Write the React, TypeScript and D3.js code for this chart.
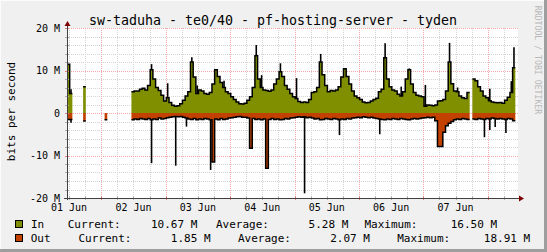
import React from 'react';
import * as d3 from 'd3';

const TITLE = 'sw-taduha - te0/40 - pf-hosting-server - tyden';
const Y_LABEL = 'bits per second';
const WATERMARK = 'RRDTOOL / TOBI OETIKER';
const Y_MAJOR = [20, 10, 0, -10, -20];
const Y_MAJOR_LABELS = ['20 M', '10 M', '0', '-10 M', '-20 M'];
const X_LABELS = ['01 Jun', '02 Jun', '03 Jun', '04 Jun', '05 Jun', '06 Jun', '07 Jun'];
const HOURS = 168;
const START_OFFSET = 0.75; // hours from graph start to 01 Jun 00:00

// hourly averages, M bit/s
const inAvg: (number | null)[] = [
  11.5, 4.6, null, null, null, null, 6.2, null, null, null, null, null, null, null, null, null, null, null, null, null, null, null, null, null,
  5.0, 5.2, 5.2, 5.6, 5.8, 5.4, 6.5, 10.2, 8.0, 6.0,
  5.3, 4.2, 2.8, 3.6, 2.5, 1.8, 1.6, 1.7, 2.2, 3.0,
  4.0, 5.0, 12.0, 8.5, 4.6, 5.4, 5.2, 4.6, 4.4, 4.8,
  6.8, 10.2, 8.6, 7.2, 6.0, 5.0, 4.6, 3.8, 3.2, 2.6,
  2.2, 2.1, 2.3, 3.0, 3.8, 6.0, 13.5, 8.0, 6.0, 5.4,
  5.3, 5.1, 5.4, 6.8, 8.0, 9.7, 8.6, 6.5, 5.6, 4.6,
  3.8, 3.4, 2.7, 2.5, 2.6, 2.5, 3.2, 4.8, 5.0, 6.0,
  12.0, 9.0, 6.5, 5.0, 5.3, 5.2, 5.4, 6.2, 8.5, 10.4,
  8.6, 6.8, 5.2, 4.0, 3.6, 3.2, 2.6, 2.4, 2.5, 2.8,
  3.2, 3.5, 5.0, 5.6, 13.0, 8.0, 6.2, 5.4, 5.2, 4.4,
  4.0, 5.0, 8.0, 10.2, 6.8, 4.8, 4.2, 4.0, 3.8, 1.6,
  1.9, 1.8, 1.7, 1.9, 2.8, 2.9, 3.2, 5.2, 12.0, 6.9,
  5.2, 5.0, 4.0, 3.6, 3.4, 4.8, null, 8.0, 7.6, 6.2,
  5.2, 4.0, 3.6, 2.9, 2.6, 2.5, 2.4, 2.5, 2.3, 3.0,
  3.7, 4.8, 10.67, null,
];

const outAvg: (number | null)[] = [
  -1.5, -1.5, null, null, null, null, -1.9, null, null, null, null, null, null, null, -1.6, null, null, null, null, null, null, null, null, null,
  -1.6, -1.4, -1.5, -1.3, -1.4, -1.5, -1.3, -1.6, -1.4, -1.5,
  -1.2, -1.4, -1.3, -1.1, -1.0, -0.9, -0.8, -0.9, -0.8, -1.0,
  -1.2, -1.4, -1.5, -1.3, -1.6, -1.4, -1.5, -1.3, -1.4, -1.6,
  -11.5, -1.4, -1.6, -1.3, -1.5, -1.4, -1.2, -1.1, -1.0, -0.9,
  -0.8, -1.0, -1.0, -1.2, -8.3, -1.3, -1.5, -1.4, -1.6, -1.4,
  -13.0, -1.5, -1.3, -1.5, -1.4, -1.6, -1.5, -1.3, -1.4, -1.2,
  -1.1, -1.0, -0.9, -1.0, -0.9, -1.1, -1.0, -1.2, -1.4, -1.3,
  -1.6, -1.5, -1.3, -1.4, -1.5, -1.3, -1.4, -1.6, -1.4, -1.5,
  -1.3, -1.4, -1.2, -1.1, -1.0, -1.1, -0.9, -1.0, -1.1, -1.0,
  -1.2, -1.3, -1.4, -1.5, -1.6, -1.4, -1.5, -1.3, -1.4, -1.5,
  -1.3, -1.4, -1.5, -1.6, -1.4, -1.3, -1.4, -1.3, -1.2, -1.1,
  -1.0, -1.1, -1.0, -1.8, -7.9, -7.9, -4.5, -3.0, -2.4, -2.0,
  -1.6, -1.4, -1.5, -1.3, -1.4, -1.5, null, -1.4, -1.5, -1.3,
  -1.4, -1.5, -1.3, -1.4, -1.2, -1.3, -1.4, -1.3, -1.4, -1.5,
  -1.3, -1.4, -1.85, null,
];

// hourly maxima that stick out of the averages: [hour index, value]
const inPeaks: [number, number][] = [
  [1, 5.6], [31, 11.5], [37, 7.0], [46, 13.1], [48, 6.5], [58, 7.6], [70, 16.0], [72, 8.9],
  [79, 11.7], [85, 8.2], [94, 13.9], [118, 16.4], [124, 6.2], [127, 10.5], [133, 6.6],
  [142, 16.5], [145, 6.0], [157, 5.7], [165, 7.5], [166, 15.5],
];
const outPeaks: [number, number][] = [
  [1, -2.3], [31, -11.8], [40, -12.4], [44, -3.2], [53, -13.4], [88, -18.9], [101, -5.2],
  [116, -5.0], [155, -5.7], [157, -4.0], [159, -3.3], [163, -4.7],
];

const LEGEND_NAMES = ['In', 'Out'];
const LEGEND_CURRENT = ['10.67 M', '1.85 M'];
const LEGEND_AVERAGE = ['5.28 M', '2.07 M'];
const LEGEND_MAXIMUM = ['16.50 M', '18.91 M'];

const W = 547;
const H = 252;
const L = 67, R = 518, T = 28, B = 198;
const FONT = "'DejaVu Sans Mono', monospace";
const IN_COLOR = '#7f8f00';
const OUT_COLOR = '#c24000';
const MINOR_GRID = '#d4d4d4';
const MAJOR_GRID = '#f0a8a8';

type Pt = { t: number; v: number | null };
function stepPoints(vals: (number | null)[]): Pt[] {
  const pts: Pt[] = [];
  vals.forEach((v, i) => {
    if (v == null) pts.push({ t: i, v: null });
    else { pts.push({ t: i, v }); pts.push({ t: i + 1, v }); }
  });
  return pts;
}

export default function App() {
  const x = d3.scaleLinear().domain([0, HOURS]).range([L, R]);
  const y = d3.scaleLinear().domain([-20, 20]).range([B, T]);

  const area = d3.area<Pt>().defined(d => d.v != null).x(d => x(d.t)).y0(y(0)).y1(d => y(d.v as number));
  const line = d3.line<Pt>().defined(d => d.v != null).x(d => x(d.t)).y(d => y(d.v as number));

  const inPts = stepPoints(inAvg);
  const outPts = stepPoints(outAvg);

  const minorV: number[] = [];
  for (let t = START_OFFSET; t <= HOURS; t += 6) minorV.push(t);
  const majorV = minorV.filter(t => Math.abs(((t - START_OFFSET - 12) % 24)) < 1e-6);
  const labelT = X_LABELS.map((_, k) => START_OFFSET + 24 * k);
  const minorH = d3.range(-20, 21, 2);

  const axisCol = '#404040';
  const arrowCol = '#7f0000';

  return (
    <svg width={W} height={H} style={{ position: 'absolute', left: 0, top: 0, display: 'block' }} fontFamily={FONT}>
      <rect x={0} y={0} width={W} height={H} fill="#f0f0f0" />
      <line x1={0} y1={0.5} x2={W} y2={0.5} stroke="#fcfcfc" />
      <line x1={0.5} y1={0} x2={0.5} y2={H} stroke="#fcfcfc" />
      <rect x={W - 3} y={0} width={3} height={H} fill="#9e9e9e" />
      <rect x={0} y={H - 3} width={W} height={3} fill="#9e9e9e" />
      <rect x={L} y={T} width={R - L} height={B - T} fill="#ffffff" />

      {/* grid */}
      {minorH.filter(v => v % 10 !== 0).map(v => (
        <line key={'h' + v} x1={L} x2={R} y1={Math.round(y(v)) + 0.5} y2={Math.round(y(v)) + 0.5} stroke={MINOR_GRID} strokeDasharray="1,1" />
      ))}
      {minorV.filter(t => !majorV.includes(t)).map(t => (
        <line key={'v' + t} x1={Math.round(x(t)) + 0.5} x2={Math.round(x(t)) + 0.5} y1={T} y2={B} stroke={MINOR_GRID} strokeDasharray="1,1" />
      ))}
      {Y_MAJOR.map(v => (
        <line key={'H' + v} x1={L} x2={R} y1={Math.round(y(v)) + 0.5} y2={Math.round(y(v)) + 0.5} stroke={MAJOR_GRID} strokeDasharray="1,1" />
      ))}
      {majorV.map(t => (
        <line key={'V' + t} x1={Math.round(x(t)) + 0.5} x2={Math.round(x(t)) + 0.5} y1={T} y2={B} stroke={MAJOR_GRID} strokeDasharray="1,1" />
      ))}

      {/* data */}
      <path d={area(inPts) || ''} fill={IN_COLOR} />
      <path d={area(outPts) || ''} fill={OUT_COLOR} />
      <path d={line(inPts) || ''} fill="none" stroke="#000" strokeWidth={1.5} />
      <path d={line(outPts) || ''} fill="none" stroke="#000" strokeWidth={1.5} />
      {inPeaks.map(([i, v]) => (
        <line key={'ip' + i} x1={x(i + 0.5)} x2={x(i + 0.5)} y1={y(inAvg[i] as number)} y2={y(v)} stroke="#000" strokeWidth={1.6} />
      ))}
      {outPeaks.map(([i, v]) => (
        <line key={'op' + i} x1={x(i + 0.5)} x2={x(i + 0.5)} y1={y(outAvg[i] as number)} y2={y(v)} stroke="#000" strokeWidth={1.6} />
      ))}

      {/* axes */}
      {minorV.map(t => (
        <line key={'xt' + t} x1={Math.round(x(t)) + 0.5} x2={Math.round(x(t)) + 0.5} y1={B - 2} y2={B + 2}
          stroke={majorV.includes(t) ? '#e08080' : '#b0b0b0'} />
      ))}
      {minorH.map(v => (
        <line key={'yt' + v} x1={L - 2} x2={L + 2} y1={Math.round(y(v)) + 0.5} y2={Math.round(y(v)) + 0.5}
          stroke={v % 10 === 0 ? '#e08080' : '#b0b0b0'} />
      ))}
      <line x1={L + 0.5} x2={L + 0.5} y1={B + 2} y2={T - 4} stroke={axisCol} />
      <line x1={L - 3} x2={R + 1} y1={B + 0.5} y2={B + 0.5} stroke={axisCol} />
      <path d={`M${L + 0.5},${T - 7} L${L - 2.5},${T - 2} L${L + 3.5},${T - 2} Z`} fill={arrowCol} />
      <path d={`M${R + 6},${B + 0.5} L${R + 1},${B - 2.5} L${R + 1},${B + 3.5} Z`} fill={arrowCol} />

      {/* tick labels */}
      {Y_MAJOR.map((v, k) => (
        <text key={'yl' + v} x={60} y={y(v) + 3.5} fontSize={10} textAnchor="end" fill="#000">{Y_MAJOR_LABELS[k]}</text>
      ))}
      {X_LABELS.map((s, k) => (
        <text key={s} x={x(labelT[k])} y={211} fontSize={10} textAnchor="middle" fill="#000">{s}</text>
      ))}

      {/* title + labels */}
      <text x={273} y={24.5} fontSize={13.3} textAnchor="middle" fill="#000">{TITLE}</text>
      <text transform={`translate(14.5,111.5) rotate(-90)`} fontSize={11} textAnchor="middle" fill="#000">{Y_LABEL}</text>
      <text transform={`translate(534.5,60) rotate(90)`} fontSize={8.2} textAnchor="middle" fill="#b8b8b8">{WATERMARK}</text>

      {/* legend */}
      {[0, 1].map(r => {
        const by = r === 0 ? 228 : 242;
        const xs = r === 0
          ? { name: 31, cur: 67.7, curV: 197.3, avg: 216, avgV: 348.3, max: 364.5, maxV: 497 }
          : { name: 30.7, cur: 78.5, curV: 210.6, avg: 238, avgV: 369.9, max: 397.2, maxV: 530.2 };
        return (
          <g key={'lg' + r} fontSize={11} fill="#000">
            <rect x={15.5} y={by - 7.5} width={7} height={7} fill={r === 0 ? IN_COLOR : OUT_COLOR} stroke="#000" />
            <text x={xs.name} y={by}>{LEGEND_NAMES[r]}</text>
            <text x={xs.cur} y={by}>Current:</text>
            <text x={xs.curV} y={by} textAnchor="end">{LEGEND_CURRENT[r]}</text>
            <text x={xs.avg} y={by}>Average:</text>
            <text x={xs.avgV} y={by} textAnchor="end">{LEGEND_AVERAGE[r]}</text>
            <text x={xs.max} y={by}>Maximum:</text>
            <text x={xs.maxV} y={by} textAnchor="end">{LEGEND_MAXIMUM[r]}</text>
          </g>
        );
      })}
    </svg>
  );
}
